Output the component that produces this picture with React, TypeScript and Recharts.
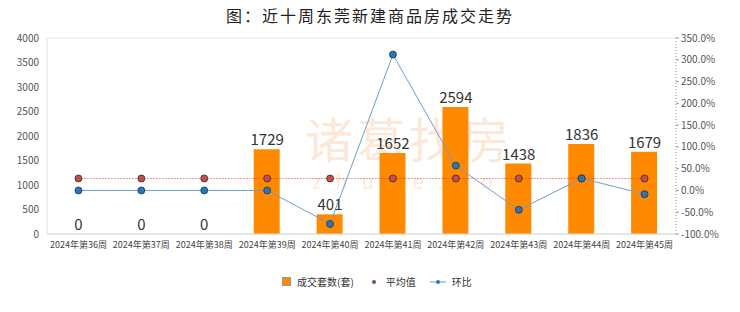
import React from "react";
import {
  ComposedChart,
  Bar,
  Line,
  XAxis,
  YAxis,
  CartesianGrid,
  LabelList,
} from "recharts";

const weeks = [
  "2024年第36周",
  "2024年第37周",
  "2024年第38周",
  "2024年第39周",
  "2024年第40周",
  "2024年第41周",
  "2024年第42周",
  "2024年第43周",
  "2024年第44周",
  "2024年第45周",
];
const deals = [0, 0, 0, 1729, 401, 1652, 2594, 1438, 1836, 1679];
const average = [1133, 1133, 1133, 1133, 1133, 1133, 1133, 1133, 1133, 1133];
const momPct = [0, 0, 0, 0, -76.8, 312.0, 57.0, -44.6, 27.7, -8.6];

const leftTicks = [0, 500, 1000, 1500, 2000, 2500, 3000, 3500, 4000];
const rightTicks = [-100, -50, 0, 50, 100, 150, 200, 250, 300, 350];

const FONT = '"Noto Sans CJK SC", "Noto Sans", sans-serif';

const data = weeks.map((w, i) => ({
  name: w,
  deals: deals[i],
  avg: average[i],
  mom: momPct[i],
}));

const AvgDot = (props: any) => {
  const { cx, cy } = props;
  if (cx == null || cy == null) return null;
  return <circle cx={cx} cy={cy} r={3.5} fill="#c0504d" stroke="#4a2020" strokeWidth={0.8} />;
};

const MomDot = (props: any) => {
  const { cx, cy } = props;
  if (cx == null || cy == null) return null;
  return <circle cx={cx} cy={cy} r={3.5} fill="#2e75b6" stroke="#1f3550" strokeWidth={0.8} />;
};

export default function App() {
  return (
    <div
      style={{
        position: "absolute",
        left: 0,
        top: 0,
        width: 740,
        height: 312,
        background: "#fff",
        fontFamily: FONT,
        overflow: "hidden",
      }}
    >
      {/* 水印 */}
      <div
        style={{
          position: "absolute",
          left: 305,
          top: 110,
          fontSize: 48,
          color: "rgba(246, 176, 120, 0.28)",
          letterSpacing: 4,
          lineHeight: "54px",
        }}
      >
        诸葛找房
      </div>
      <div
        style={{
          position: "absolute",
          left: 312,
          top: 166,
          fontSize: 20,
          color: "rgba(246, 176, 120, 0.28)",
          letterSpacing: 14,
        }}
      >
        zhuge.com
      </div>

      <div
        style={{
          position: "absolute",
          top: 3,
          width: 740,
          textAlign: "center",
          fontSize: 16,
          fontWeight: 400,
          color: "#222",
          letterSpacing: 2,
        }}
      >
        图：近十周东莞新建商品房成交走势
      </div>

      <div style={{ position: "absolute", left: 0, top: 0 }}>
        <ComposedChart
          width={740}
          height={312}
          data={data}
          margin={{ top: 38, right: 0, left: 0, bottom: 56 }}
        >
          <CartesianGrid vertical={false} stroke="#e6e6e6" />
          <XAxis
            dataKey="name"
            interval={0}
            height={22}
            tickLine={false}
            axisLine={{ stroke: "#d9d9d9" }}
            tick={{ fontSize: 9, fill: "#444" }}
          />
          <YAxis
            yAxisId="left"
            width={47}
            domain={[0, 4000]}
            ticks={leftTicks}
            tickLine={false}
            axisLine={{ stroke: "#e0e0e0" }}
            tick={{ fontSize: 10, fill: "#555" }}
          />
          <YAxis
            yAxisId="right"
            orientation="right"
            width={64}
            domain={[-100, 350]}
            ticks={rightTicks}
            tickFormatter={(v: number) => `${v.toFixed(1)}%`}
            tickSize={3}
            tickLine={{ stroke: "#999" }}
            axisLine={{ stroke: "#999", strokeDasharray: "1 2" }}
            tick={{ fontSize: 10, fill: "#555" }}
          />
          <Bar
            yAxisId="left"
            dataKey="deals"
            fill="#ff8a00"
            barSize={26}
            isAnimationActive={false}
          />
          {/* 柱顶数值标签（含 0 值） */}
          <Line
            yAxisId="left"
            dataKey="deals"
            stroke="none"
            dot={false}
            activeDot={false}
            legendType="none"
            isAnimationActive={false}
          >
            <LabelList dataKey="deals" position="top" offset={4} style={{ fontSize: 15, fill: "#333" }} />
          </Line>
          <Line
            yAxisId="left"
            dataKey="avg"
            stroke="#e03030"
            strokeWidth={1}
            strokeDasharray="1 2"
            dot={<AvgDot />}
            activeDot={false}
            isAnimationActive={false}
          />
          <Line
            yAxisId="right"
            dataKey="mom"
            stroke="#6a9fd4"
            strokeWidth={1}
            dot={<MomDot />}
            activeDot={false}
            isAnimationActive={false}
          />
        </ComposedChart>
      </div>

      {/* 图例 */}
      <div
        style={{
          position: "absolute",
          top: 274,
          left: 282,
          display: "flex",
          alignItems: "center",
          fontSize: 10,
          color: "#333",
        }}
      >
        <span style={{ width: 7, height: 7, background: "#ff8a00", border: "1px solid #999", marginRight: 6 }} />
        <span style={{ marginRight: 14 }}>成交套数(套)</span>
        <svg width={12} height={10} style={{ marginRight: 6 }}>
          <circle cx={6} cy={5} r={2} fill="#8a4a4a" />
        </svg>
        <span style={{ marginRight: 14 }}>平均值</span>
        <svg width={16} height={10} style={{ marginRight: 6 }}>
          <line x1={0} y1={5} x2={16} y2={5} stroke="#6a9fd4" />
          <circle cx={8} cy={5} r={2} fill="#2e75b6" />
        </svg>
        <span>环比</span>
      </div>
    </div>
  );
}
